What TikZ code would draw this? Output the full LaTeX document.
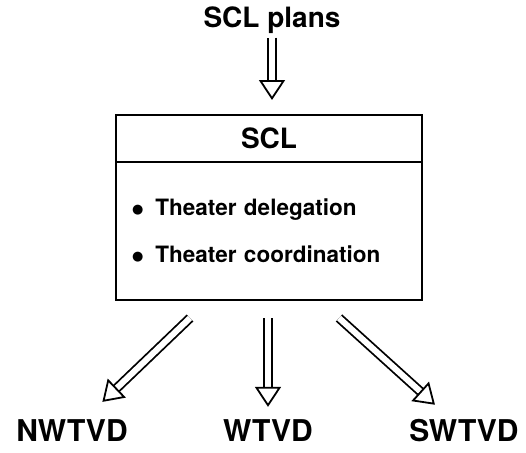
\documentclass[tikz,border=0pt]{standalone}
\usepackage{fontspec}
\setmainfont{TeX Gyre Heros}
\newfontfamily\dotfont{DejaVu Sans}
\usetikzlibrary{arrows.meta}

\newcommand{\dotitem}{{\dotfont\fontsize{13}{13}\selectfont\raisebox{2pt}{●}}\hspace{12pt}}

\tikzset{
	hollow/.style={double, double distance=6pt, line width=1.8pt,
		-{Triangle[open, length=20pt, width=26pt]}},
	big/.style={font=\fontsize{28}{32}\selectfont\bfseries, inner sep=0pt},
	unit/.style={font=\fontsize{30}{34}\selectfont\bfseries, inner sep=0pt},
	frame/.style={draw, line width=1.6pt, outer sep=0pt, minimum width=306pt}
}

\begin{document}
\begin{tikzpicture}[x=1pt,y=-1pt]
	\useasboundingbox (0,0) rectangle (526,452);
	\node (plans) at (272,20) [big] {SCL plans};
	\node (head) at (269,138.5) [frame, big, minimum height=47pt] {SCL};
	\node (tasks) at (head.south) [frame, anchor=north, minimum height=138pt,
		text width=274pt, inner xsep=16pt, align=left,
		font=\fontsize{22.5}{47}\selectfont\bfseries]
		{\dotitem Theater delegation\\ \dotitem Theater coordination};
	\node (nw) at (72,431) [unit] {NWTVD};
	\node (wt) at (268,431) [unit] {WTVD};
	\node (sw) at (464,431) [unit] {SWTVD};
	\coordinate (outnw) at (190,318);
	\coordinate (outwt) at (268,318);
	\coordinate (outsw) at (339,318);
	\draw[hollow, shorten <=4pt, shorten >=15pt] (plans) -- (plans |- head.north);
	\draw[hollow, shorten >=26pt] (outnw) -- (nw);
	\draw[hollow, shorten >=13pt] (outwt) -- (wt);
	\draw[hollow, shorten >=22pt] (outsw) -- (sw);
\end{tikzpicture}
\end{document}
